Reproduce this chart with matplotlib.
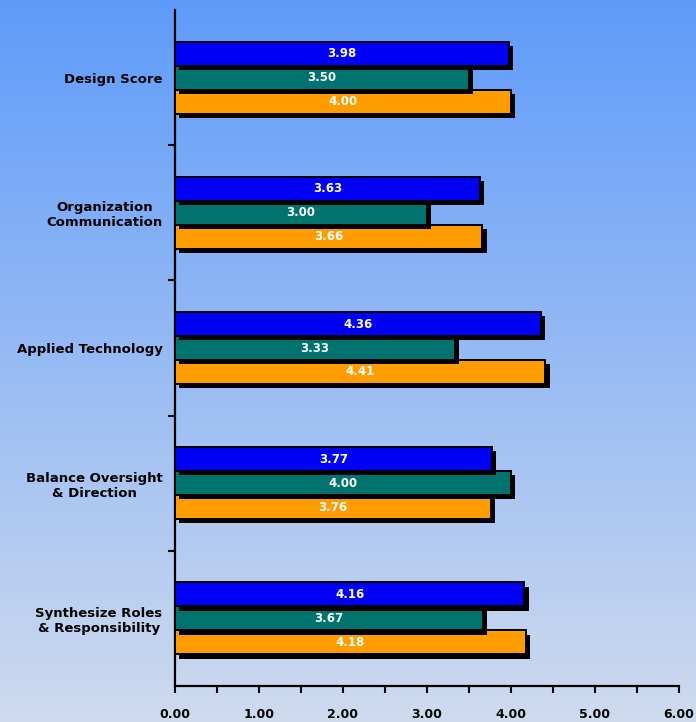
import numpy as np
import matplotlib
matplotlib.use("Agg")
import matplotlib.pyplot as plt
import matplotlib.patheffects as pe
from matplotlib.ticker import FixedLocator, MultipleLocator, FuncFormatter

categories = [
    "Design Score",
    "Organization\nCommunication",
    "Applied Technology",
    "Balance Oversight\n& Direction",
    "Synthesize Roles\n& Responsibility",
]
series_a = [3.98, 3.63, 4.36, 3.77, 4.16]   # blue
series_b = [3.50, 3.00, 3.33, 4.00, 3.67]   # teal
series_c = [4.00, 3.66, 4.41, 3.76, 4.18]   # orange
series_colors = ["#0000f5", "#00736e", "#ff9c00"]

W, H, DPI = 696, 722, 100
fig = plt.figure(figsize=(W / DPI, H / DPI), dpi=DPI)

# vertical background gradient
bg = fig.add_axes([0, 0, 1, 1], zorder=-10)
top = np.array([95, 155, 250]) / 255.0
bot = np.array([207, 219, 238]) / 255.0
t = np.linspace(0, 1, 256)[:, None]
grad = (top[None, :] * (1 - t) + bot[None, :] * t)[:, None, :]
bg.imshow(grad, aspect="auto", extent=[0, 1, 0, 1], interpolation="bilinear")
bg.set_axis_off()

ax = fig.add_axes([175 / W, 1 - 686 / H, (679 - 175) / W, (686 - 10) / H])
ax.patch.set_alpha(0)

y = np.arange(len(categories))
bar_h = 0.1775
offsets = [-bar_h, 0.0, bar_h]
all_series = [series_a, series_b, series_c]
shadow = [pe.SimplePatchShadow(offset=(3.0, -3.0), shadow_rgbFace="black", alpha=1.0), pe.Normal()]

for i, (vals, col, off) in enumerate(zip(all_series, series_colors, offsets)):
    bars = ax.barh(y + off, vals, height=bar_h, color=col, edgecolor="black",
                   linewidth=1.4, zorder=10 - i)
    for b in bars:
        b.set_path_effects(shadow)
    for yy, v in zip(y + off, vals):
        ax.text(v / 2, yy, f"{v:.2f}", ha="center", va="center", color="white",
                fontsize=8.5, fontweight="bold", family="DejaVu Sans", zorder=20)

ax.set_xlim(0, 6)
ax.set_ylim(len(categories) - 0.5, -0.5)

for s in ["top", "right"]:
    ax.spines[s].set_visible(False)
for s in ["left", "bottom"]:
    ax.spines[s].set_linewidth(1.6)
    ax.spines[s].set_color("black")

ax.xaxis.set_major_locator(MultipleLocator(1))
ax.xaxis.set_minor_locator(MultipleLocator(0.5))
ax.xaxis.set_major_formatter(FuncFormatter(lambda v, p: f"{v:.2f}"))
ax.tick_params(axis="x", which="both", direction="out", length=5, width=1.5,
               color="black", pad=11)
for lab in ax.get_xticklabels():
    lab.set_fontweight("bold")
    lab.set_fontsize(9)
    lab.set_family("DejaVu Sans")

ax.set_yticks(y)
ax.set_yticklabels(categories, fontsize=9.5, fontweight="bold", family="DejaVu Sans",
                   multialignment="center")
ax.yaxis.set_minor_locator(FixedLocator(np.arange(0.5, len(categories) - 0.5, 1.0)))
ax.tick_params(axis="y", which="major", length=0, pad=9)
ax.tick_params(axis="y", which="minor", direction="out", length=5, width=1.5, color="black")

fig.savefig("out.png", dpi=DPI)
